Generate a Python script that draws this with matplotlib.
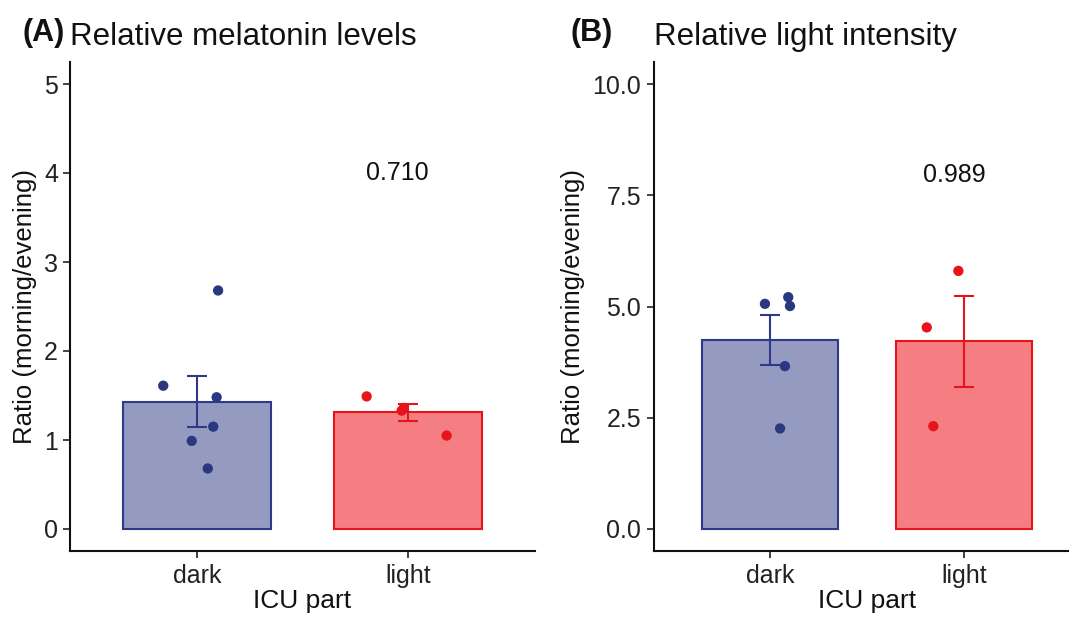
import matplotlib
matplotlib.use("Agg")
import matplotlib.pyplot as plt
import numpy as np

plt.rcParams['font.family'] = ['Liberation Sans', 'DejaVu Sans']

categories = ["dark", "light"]

# Panel A: relative melatonin levels
mel_dark = [2.68, 1.61, 1.48, 1.15, 0.99, 0.68]
mel_dark_jit = [0.10, -0.16, 0.093, 0.077, -0.025, 0.051]
mel_light = [1.49, 1.36, 1.33, 1.05]
mel_light_jit = [-0.196, -0.02, -0.03, 0.183]
mel_means = [1.43, 1.31]
mel_se = [0.285, 0.093]
mel_p = "0.710"

# Panel B: relative light intensity
li_dark = [5.06, 5.21, 5.01, 3.66, 2.26]
li_dark_jit = [-0.026, 0.094, 0.103, 0.077, 0.052]
li_light = [5.80, 4.53, 2.31]
li_light_jit = [-0.029, -0.192, -0.158]
li_means = [4.24, 4.22]
li_se = [0.565, 1.02]
li_p = "0.989"

fill_cols = ["#959BC0", "#F47E82"]
edge_cols = ["#2E3A87", "#E3161C"]
pt_cols = ["#2B3781", "#E8131B"]

W, H = 1069, 617
fig = plt.figure(figsize=(W / 100, H / 100), dpi=100)

def px_axes(l, r, t, b):
    return fig.add_axes([l / W, 1 - b / H, (r - l) / W, (b - t) / H])

def panel(ax, means, se, pts, jits, ylim, yticks, yticklabels, title, ptxt, ptxt_y):
    x = np.arange(1, len(categories) + 1)
    ax.bar(x, means, width=0.7, color=fill_cols, edgecolor=edge_cols, linewidth=1.5, zorder=1)
    for i in range(len(categories)):
        ax.errorbar(x[i], means[i], yerr=se[i], color=edge_cols[i], capsize=7.2,
                    elinewidth=1.5, capthick=1.5, fmt='none', zorder=2)
        ax.scatter(x[i] + np.array(jits[i]), pts[i], s=55, color=pt_cols[i],
                   edgecolors='none', zorder=3)
    ax.set_xlim(0.4, 2.6)
    ax.set_ylim(*ylim)
    ax.set_xticks(x)
    ax.set_xticklabels(categories, fontsize=18)
    ax.set_yticks(yticks)
    ax.set_yticklabels(yticklabels, fontsize=18)
    ax.tick_params(length=5, width=1.2, colors='#222222', labelcolor='#222222', pad=4)
    for s in ['top', 'right']:
        ax.spines[s].set_visible(False)
    for s in ['left', 'bottom']:
        ax.spines[s].set_linewidth(1.5)
        ax.spines[s].set_color('#111111')
    ax.set_xlabel("ICU part", fontsize=19, labelpad=1, color='#111111')
    ax.set_ylabel("Ratio (morning/evening)", fontsize=18.5, labelpad=5, color='#111111')
    ax.set_title(title, loc='left', fontsize=22.5, pad=12, color='#111111')
    ax.text(1.95, ptxt_y, ptxt, fontsize=18, ha='center', va='center', color='#111111')

axA = px_axes(70.4, 534.6, 61.75, 551.25)
panel(axA, mel_means, mel_se, [mel_dark, mel_light], [mel_dark_jit, mel_light_jit],
      (-0.25, 5.25), [0, 1, 2, 3, 4, 5], ["0", "1", "2", "3", "4", "5"],
      "Relative melatonin levels", mel_p, 4.0)

axB = px_axes(653.6, 1080.4, 61.75, 551.25)
panel(axB, li_means, li_se, [li_dark, li_light], [li_dark_jit, li_light_jit],
      (-0.5, 10.5), [0, 2.5, 5, 7.5, 10], ["0.0", "2.5", "5.0", "7.5", "10.0"],
      "Relative light intensity", li_p, 7.95)

fig.text(22 / W, 1 - 33 / H, "(A)", fontsize=22, fontweight='bold', va='center', ha='left', color='#111111')
fig.text(570 / W, 1 - 33 / H, "(B)", fontsize=22, fontweight='bold', va='center', ha='left', color='#111111')

fig.savefig("out.png", dpi=100, facecolor='white')
